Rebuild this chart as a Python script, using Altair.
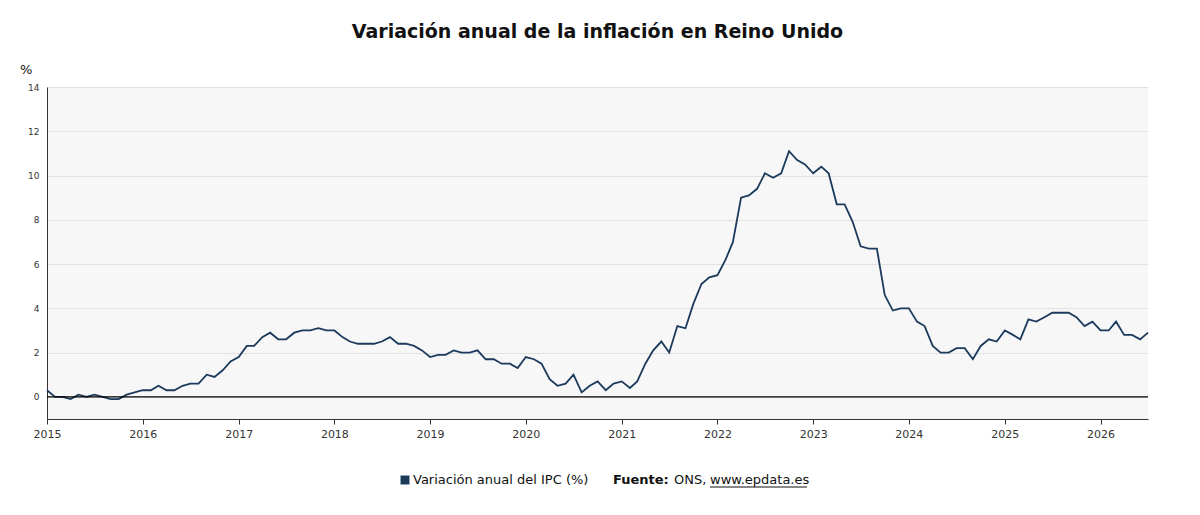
import altair as alt
import pandas as pd

# UK CPI annual variation, monthly, Jan 2015 onwards
values = [
    0.3, 0.0, 0.0, -0.1, 0.1, 0.0, 0.1, 0.0, -0.1, -0.1, 0.1, 0.2,
    0.3, 0.3, 0.5, 0.3, 0.3, 0.5, 0.6, 0.6, 1.0, 0.9, 1.2, 1.6,
    1.8, 2.3, 2.3, 2.7, 2.9, 2.6, 2.6, 2.9, 3.0, 3.0, 3.1, 3.0,
    3.0, 2.7, 2.5, 2.4, 2.4, 2.4, 2.5, 2.7, 2.4, 2.4, 2.3, 2.1,
    1.8, 1.9, 1.9, 2.1, 2.0, 2.0, 2.1, 1.7, 1.7, 1.5, 1.5, 1.3,
    1.8, 1.7, 1.5, 0.8, 0.5, 0.6, 1.0, 0.2, 0.5, 0.7, 0.3, 0.6,
    0.7, 0.4, 0.7, 1.5, 2.1, 2.5, 2.0, 3.2, 3.1, 4.2, 5.1, 5.4,
    5.5, 6.2, 7.0, 9.0, 9.1, 9.4, 10.1, 9.9, 10.1, 11.1, 10.7, 10.5,
    10.1, 10.4, 10.1, 8.7, 8.7, 7.9, 6.8, 6.7, 6.7, 4.6, 3.9, 4.0,
    4.0, 3.4, 3.2, 2.3, 2.0, 2.0, 2.2, 2.2, 1.7, 2.3, 2.6, 2.5,
    3.0, 2.8, 2.6, 3.5, 3.4, 3.6, 3.8, 3.8, 3.8, 3.6, 3.2, 3.4,
    3.0, 3.0, 3.4, 2.8, 2.8, 2.6, 2.9,
]
dates = pd.date_range("2015-01-01", periods=len(values), freq="MS")
df = pd.DataFrame({"fecha": dates, "ipc": values})

W, H = 1101, 332
navy = "#1b3a5c"

x = alt.X("fecha:T", title=None,
          scale=alt.Scale(domain=["2015-01-01", "2026-07-01"], nice=False),
          axis=alt.Axis(format="%Y", tickCount={"interval": "year", "step": 1},
                        grid=False, domainColor="#333", tickColor="#333",
                        labelFont="DejaVu Sans", labelFontSize=11, labelColor="#333",
                        labelPadding=4, tickSize=5, labelFlush=False))
y = alt.Y("ipc:Q", title=None,
          scale=alt.Scale(domain=[-1, 14], nice=False),
          axis=alt.Axis(values=[0, 2, 4, 6, 8, 10, 12, 14], gridColor="#e2e2e2",
                        domainColor="#333", ticks=False, labelFont="DejaVu Sans",
                        labelFontSize=9, labelColor="#333", labelPadding=8))

line = alt.Chart(df).mark_line(color=navy, strokeWidth=1.8).encode(x=x, y=y)

zero = alt.Chart(pd.DataFrame({"v": [0]})).mark_rule(color="black", strokeWidth=1.2).encode(y="v:Q")

def txt(t, xp, yp, bold=False, size=13, align="left"):
    return alt.Chart(pd.DataFrame({"t": [t]})).mark_text(
        align=align, baseline="middle", font="DejaVu Sans", fontSize=size,
        fontWeight="bold" if bold else "normal", color="#111"
    ).encode(x=alt.value(xp), y=alt.value(yp), text="t:N")

legend_sq = alt.Chart(pd.DataFrame({"a": [1]})).mark_square(color=navy, size=80, opacity=1).encode(
    x=alt.value(405 - 47), y=alt.value(393))
underline = alt.Chart(pd.DataFrame({"a": [1]})).mark_rule(color="#111", strokeWidth=1).encode(
    x=alt.value(710 - 47), x2=alt.value(807 - 47), y=alt.value(400))

chart = alt.layer(
    line, zero,
    txt("%", -27, -17, size=13),
    legend_sq,
    txt("Variación anual del IPC (%)", 413 - 47, 393),
    txt("Fuente:", 613 - 47, 393, bold=True),
    txt("ONS,", 674 - 47, 393),
    txt("www.epdata.es", 710 - 47, 393),
    underline,
).properties(
    width=W, height=H,
    title=alt.TitleParams("Variación anual de la inflación en Reino Unido", font="DejaVu Sans",
                          fontSize=19, fontWeight="bold", color="#111", anchor="middle", offset=22),
    autosize=alt.AutoSizeParams(type="none"),
    padding={"left": 39, "top": 79, "right": 44, "bottom": 80},
).configure_view(fill="#f7f7f7", stroke=None)

chart.save("out.html", embed_options={"renderer": "svg", "actions": False})
